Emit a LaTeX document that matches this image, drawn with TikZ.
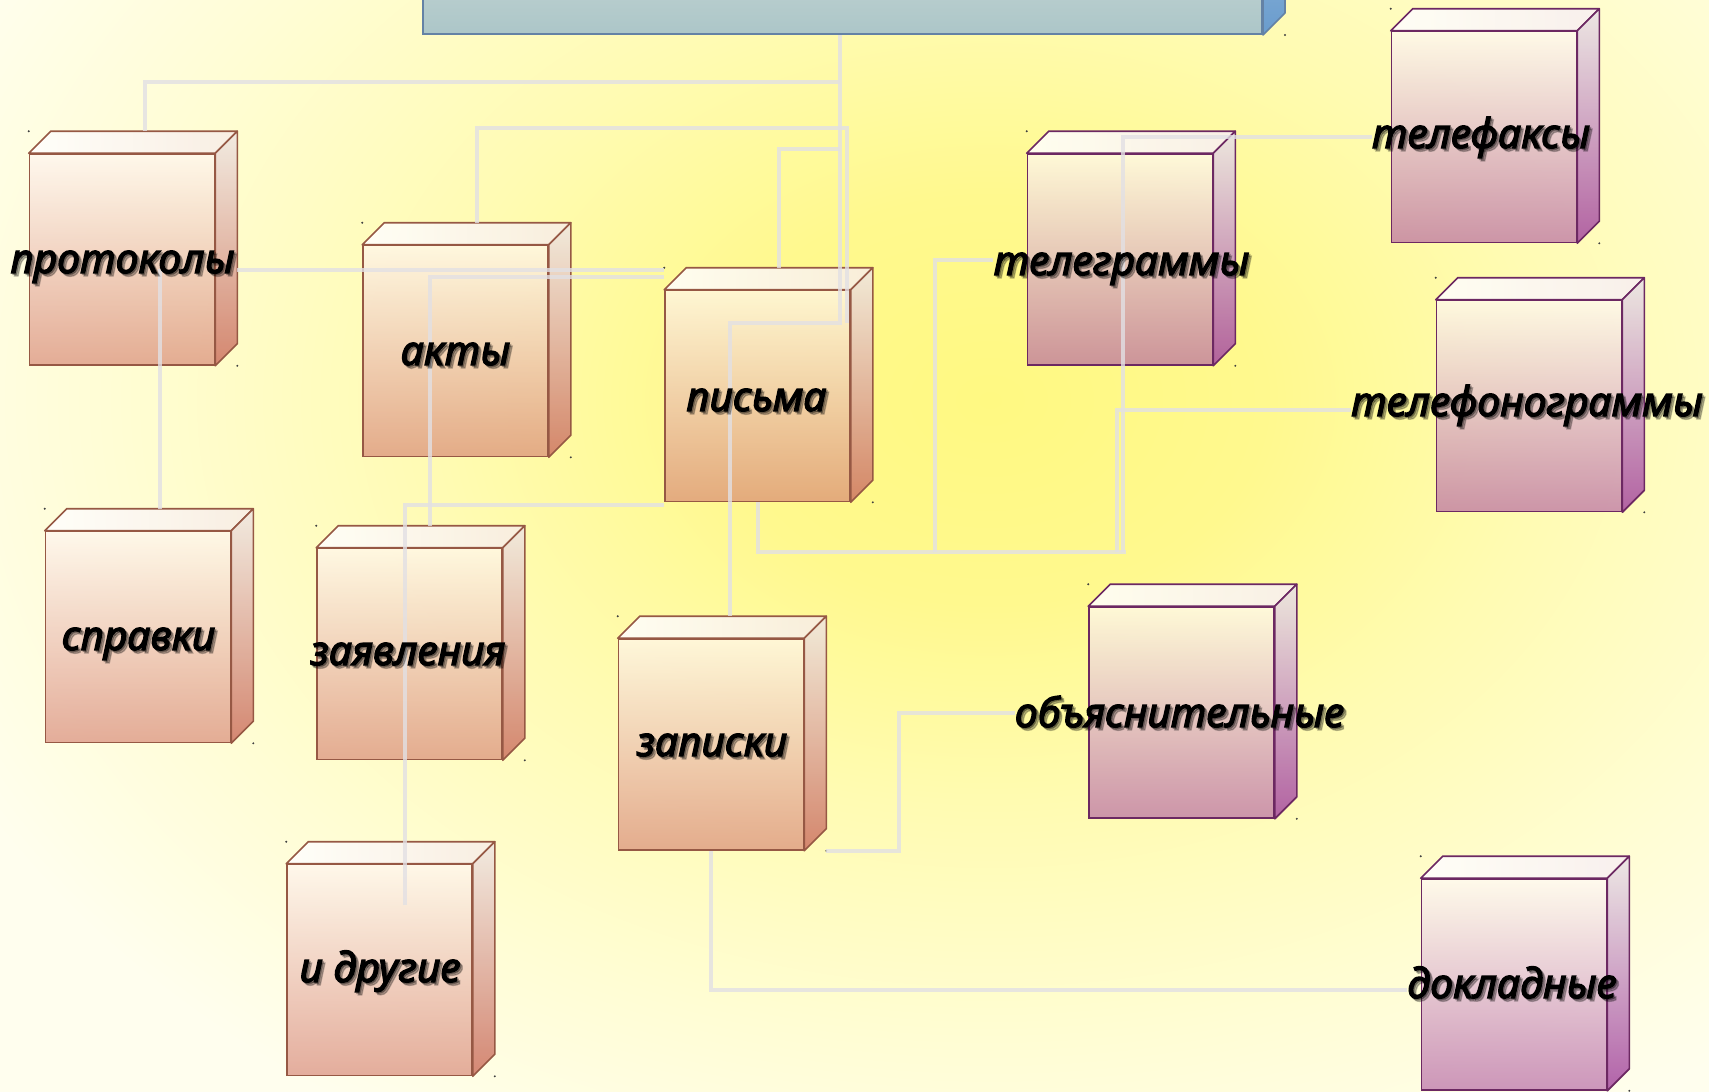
\documentclass[tikz,border=0pt]{standalone}
\usepackage{fontspec}
\setmainfont{Noto Sans}
\newfontfamily\lblfont{Noto Sans}[ItalicFeatures={FakeBold=3.2}]
\usetikzlibrary{calc}

% background glow (stops inside the central 25bp, as TikZ fits that part to the path)
\definecolor{glowA}{RGB}{255,249,130}
\definecolor{glowB}{RGB}{255,249,142}
\definecolor{glowC}{RGB}{255,251,178}
\definecolor{glowD}{RGB}{255,253,212}
\definecolor{glowE}{RGB}{255,254,238}
\pgfdeclareradialshading{backglow}{\pgfpoint{0bp}{0bp}}{color(0bp)=(glowA); color(6bp)=(glowB); color(12bp)=(glowC); color(19bp)=(glowD); color(25bp)=(glowE); color(50bp)=(glowE)}

% warm boxes
\definecolor{edgeO}{RGB}{150,88,68}
\definecolor{faceTopO}{RGB}{255,246,244}
\definecolor{faceBotO}{RGB}{214,130,114}
\definecolor{sideTopO}{RGB}{240,232,228}
\definecolor{sideBotO}{RGB}{205,115,96}
\definecolor{lidO}{RGB}{248,236,230}
% violet boxes
\definecolor{edgeP}{RGB}{108,40,98}
\definecolor{faceTopP}{RGB}{255,249,250}
\definecolor{faceBotP}{RGB}{178,95,162}
\definecolor{sideTopP}{RGB}{234,228,232}
\definecolor{sideBotP}{RGB}{165,72,158}
\definecolor{lidP}{RGB}{248,238,242}
% header box
\definecolor{edgeH}{RGB}{100,130,165}
\definecolor{faceTopH}{RGB}{210,222,218}
\definecolor{faceBotH}{RGB}{172,198,200}
\definecolor{sideTopH}{RGB}{160,195,222}
\definecolor{sideBotH}{RGB}{105,155,205}
% connectors
\definecolor{wirec}{RGB}{226,224,228}

\pgfdeclarelayer{front}
\pgfsetlayers{main,front}

\tikzset{
  frontO/.style={draw=edgeO, line width=1.6pt, top color=faceTopO, bottom color=faceBotO,
    fill opacity=0.65, minimum width=185pt, minimum height=211pt, inner sep=0pt},
  lidOs/.style={draw=edgeO, line width=1.6pt, left color=white, right color=lidO, fill opacity=0.85, line join=round},
  sideOs/.style={draw=edgeO, line width=1.6pt, top color=sideTopO, bottom color=sideBotO, fill opacity=0.85, line join=round},
  frontP/.style={draw=edgeP, line width=1.6pt, top color=faceTopP, bottom color=faceBotP,
    fill opacity=0.65, minimum width=185pt, minimum height=211pt, inner sep=0pt},
  lidPs/.style={draw=edgeP, line width=1.6pt, left color=white, right color=lidP, fill opacity=0.85, line join=round},
  sidePs/.style={draw=edgeP, line width=1.6pt, top color=sideTopP, bottom color=sideBotP, fill opacity=0.85, line join=round},
  headbox/.style={draw=edgeH, line width=2pt, top color=faceTopH, bottom color=faceBotH,
    minimum width=839pt, minimum height=134pt, inner sep=0pt},
  headside/.style={draw=edgeH, line width=1.6pt, top color=sideTopH, bottom color=sideBotH, line join=round},
  wire/.style={draw=wirec, line width=4pt, draw opacity=0.8, line join=miter},
  lbl/.style={font=\lblfont\fontsize{41}{41}\selectfont\itshape, inner sep=0pt, anchor=base, text=black},
  lblsh/.style={lbl, opacity=0.25},
  selmark/.style={fill=black!75},
}

% a box with a lid and a side face; #1 name, #2 centre of the front face, #3 palette (O or P)
\newcommand\cubebox[3]{%
  \node[front#3] (#1) at (#2) {};
  \path[lid#3s] (#1.north west) -- ++(22,-22) -- ([shift={(22pt,22pt)}]#1.north east) -- (#1.north east) -- cycle;
  \path[side#3s] (#1.north east) -- ++(22,-22) -- ([shift={(22pt,22pt)}]#1.south east) -- (#1.south east) -- cycle;
  \coordinate (#1-bk) at ([yshift=22pt]#1.north);
  \fill[selmark] ([yshift=22pt]#1.north west) circle (1.1);
  \fill[selmark] ([xshift=22pt]#1.south east) circle (1.1);
}

% a label with a soft drop shadow; #1 name, #2 base point, #3 text
\newcommand\lbltext[3]{%
  \node[lblsh] (#1-sa) at ($(#2)+(1.5,1.5)$) {#3};
  \node[lblsh] (#1-sb) at ($(#2)+(3,3)$) {#3};
  \node[lbl] (#1) at (#2) {#3};
}

\begin{document}
\begin{tikzpicture}[x=1pt,y=-1pt]
\useasboundingbox (0,0) rectangle (1709,1092);

% background
\begin{scope}
  \clip (0,0) rectangle (1709,1092);
  \fill[glowE] (0,0) rectangle (1709,1092);
  \shade[shading=backglow] (990,400) ellipse (1150 and 850);
\end{scope}

% header box (cut by the top edge)
\node[headbox] (head) at (842.5,-33) {};
\path[headside] (head.north east) -- ++(22,-22) -- ([shift={(22pt,22pt)}]head.south east) -- (head.south east) -- cycle;
\fill[selmark] ([xshift=22pt]head.south east) circle (1.1);
\coordinate (hub) at ([xshift=-2.5pt]head.south);

% boxes
\cubebox{prot}{122,259.5}{O}
\cubebox{akty}{455.5,351}{O}
\cubebox{pism}{757.5,396}{O}
\cubebox{spr}{138,637}{O}
\cubebox{zayv}{409.5,654}{O}
\cubebox{zap}{711,744.5}{O}
\cubebox{drug}{379.5,970}{O}
\cubebox{tgr}{1120,259.5}{P}
\cubebox{tfax}{1484,137}{P}
\cubebox{tfon}{1529,406}{P}
\cubebox{obj}{1181.5,712.5}{P}
\cubebox{dokl}{1514,984.5}{P}

% labels
\begin{pgfonlayer}{front}
\lbltext{L-prot}{122.5,273}{протоколы}
\lbltext{L-akty}{455.5,365}{акты}
\lbltext{L-pism}{756.5,411}{письма}
\lbltext{L-tgr}{1121.5,275}{телеграммы}
\lbltext{L-tfax}{1481,148}{телефаксы}
\lbltext{L-tfon}{1527,416}{телефонограммы}
\lbltext{L-spr}{138.5,650}{справки}
\lbltext{L-zayv}{408,665}{заявления}
\lbltext{L-zap}{712,756}{записки}
\lbltext{L-obj}{1179.5,727}{объяснительные}
\lbltext{L-drug}{380,982}{и другие}
\lbltext{L-dokl}{1512,998}{докладные}
\end{pgfonlayer}

% connectors
\draw[wire] (hub) -- (840,323) -- (730,323) -- ([xshift=19pt]zap-bk);
\draw[wire] ([xshift=23pt]prot-bk) |- (840,82);
\draw[wire] ([xshift=21.5pt]akty-bk) |- (847,128) -- (847,323);
\draw[wire] ([xshift=21.5pt]pism-bk) |- (840,149);
\draw[wire] (prot.east) ++(22,10.5) -- (pism.west |- 0,270);
\draw[wire] ([xshift=22pt]spr-bk) -- ++(0,-240);
\draw[wire] ([xshift=20.5pt]zayv-bk) |- (pism.west |- 0,277);
\draw[wire] (drug.center) ++(25.5,-65) |- (pism.west |- 0,505);
\draw[wire] (pism.south) |- (1126,552);
\draw[wire] (935,552) |- ([yshift=15pt]L-tgr.base west);
\draw[wire] (1117,552) |- ([yshift=6pt]L-tfon.base west);
\draw[wire] (1123,552) |- ([yshift=11pt]L-tfax.base west);
\draw[wire] (zap.south east) ++(22,0) -| (899,713) -- ([yshift=14pt]L-obj.base west);
\draw[wire] (zap.south) |- ([yshift=8pt]L-dokl.base west);
\end{tikzpicture}
\end{document}
